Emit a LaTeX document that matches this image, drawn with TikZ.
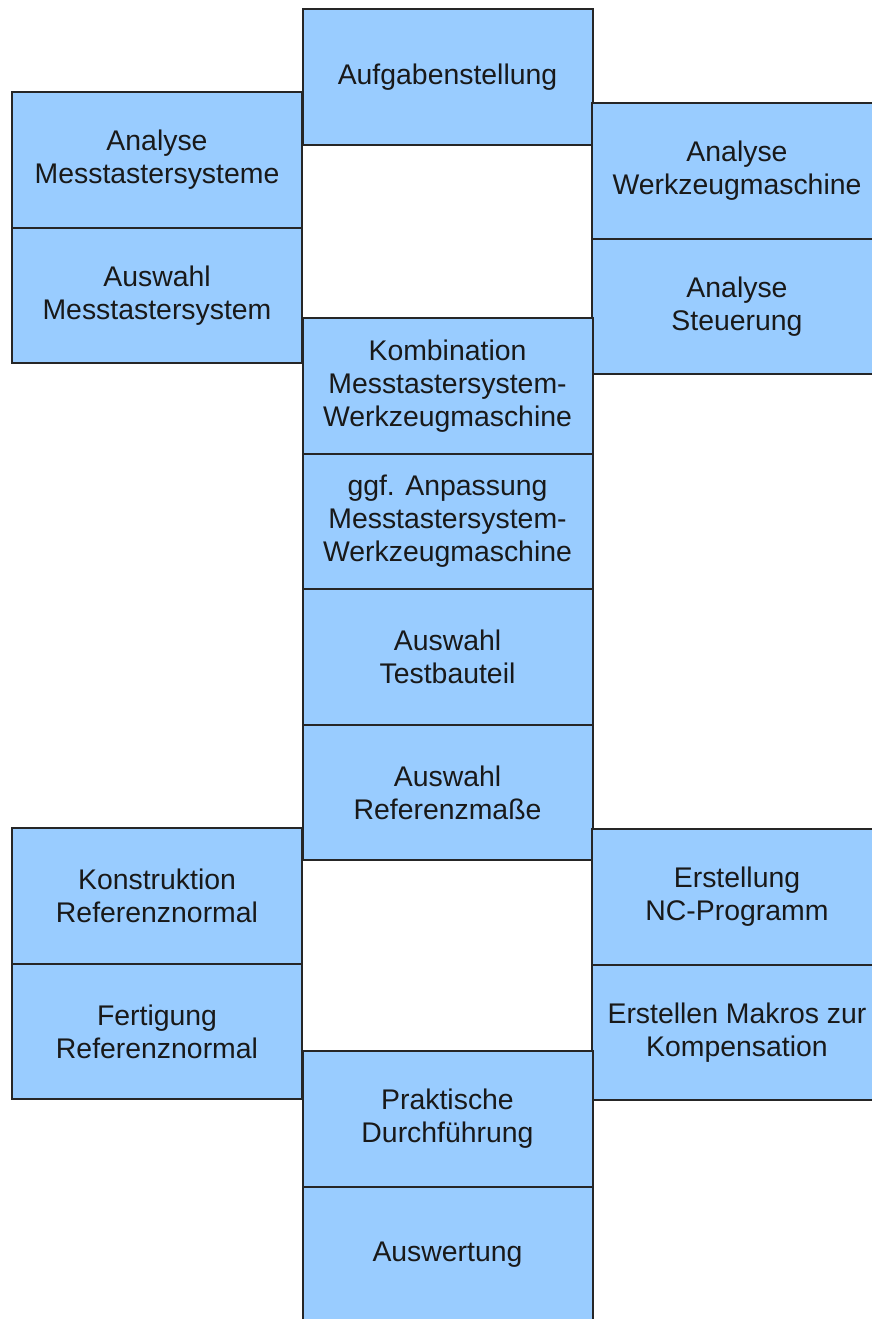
\documentclass[tikz,border=0pt]{standalone}
\usepackage{fontspec}
\setmainfont{Liberation Sans}
\usetikzlibrary{positioning}

\definecolor{stepblue}{RGB}{153,204,255}

\begin{document}
\begin{tikzpicture}[
  x=0.5pt, y=-0.5pt,
  stage/.style={draw=black!85, fill=stepblue, line width=1pt, outer sep=0pt,
    minimum width=145pt, minimum height=67.75pt, inner sep=2pt, align=center,
    font=\fontsize{14.2}{16.5}\selectfont, text=black!90}
]
  \useasboundingbox (0,0) rectangle (872,1319);
  \clip (0,0) rectangle (872,1319);

  \node[stage] (task) at (447.5,77) {Aufgabenstellung};

  \node[stage] (probeana) at (157,160) {Analyse\\Messtastersysteme};
  \node[stage, below=0pt of probeana] (probesel) {Auswahl\\Messtastersystem};

  \node[stage] (machana) at (737,171) {Analyse\\Werkzeugmaschine};
  \node[stage, below=0pt of machana] (ctrlana) {Analyse\\Steuerung};

  \node[stage] (combine) at (447.5,386) {Kombination\\Messtastersystem-\\Werkzeugmaschine};
  \node[stage, below=0pt of combine] (adapt) {ggf. Anpassung\\Messtastersystem-\\Werkzeugmaschine};
  \node[stage, below=0pt of adapt] (testpart) {Auswahl\\Testbauteil};
  \node[stage, below=0pt of testpart] (refdim) {Auswahl\\Referenzmaße};

  \node[stage] (refdesign) at (157,896) {Konstruktion\\Referenznormal};
  \node[stage, below=0pt of refdesign] (refmake) {Fertigung\\Referenznormal};

  \node[stage] (ncprog) at (737,897) {Erstellung\\NC-Programm};
  \node[stage, below=0pt of ncprog] (macros) {Erstellen Makros zur\\Kompensation};

  \node[stage] (practice) at (447.5,1119) {Praktische\\Durchführung};
  \node[stage, below=0pt of practice] (evaluate) {Auswertung};
\end{tikzpicture}
\end{document}
